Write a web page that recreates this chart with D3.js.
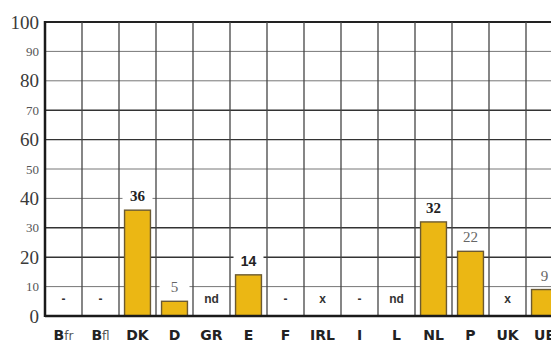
<!DOCTYPE html>
<html><head><meta charset="utf-8">
<script src="https://cdn.jsdelivr.net/npm/d3@7"></script>
<style>body{margin:0;background:#fff;overflow:hidden}</style>
</head><body>
<svg id="c" width="551" height="342"></svg>
<script>
const categories = ["Bfr","Bfl","DK","D","GR","E","F","IRL","I","L","NL","P","UK","UE"];
const values = [null,null,36,5,null,14,null,null,null,null,32,22,null,9];
const markers = ["-","-","","","nd","","-","x","-","nd","","","x",""];
const labelBold = [false,false,true,false,false,true,false,false,false,false,true,false,false,false];
const yTicks = [0,10,20,30,40,50,60,70,80,90,100];

const svg = d3.select("#c");
const x = d3.scaleBand().domain(categories).range([45, 563]).padding(0);
const y = d3.scaleLinear().domain([0,100]).range([316, 22]);

// horizontal gridlines
const strong = new Set([100,70,60,30,20]);
svg.append("g").selectAll("line").data(yTicks.filter(t=>t>0)).join("line")
  .attr("x1",45).attr("x2",563).attr("y1",d=>y(d)).attr("y2",d=>y(d))
  .attr("stroke",d=>d===100?"#222":(strong.has(d)?"#333":"#777"))
  .attr("stroke-width",d=>d===100?2.2:(strong.has(d)?1.4:1));

// vertical gridlines
svg.append("g").selectAll("line").data(categories.slice(1)).join("line")
  .attr("x1",d=>x(d)).attr("x2",d=>x(d)).attr("y1",y(100)).attr("y2",y(0))
  .attr("stroke","#444").attr("stroke-width",1.3);

// y tick labels
svg.append("g").selectAll("text").data(yTicks).join("text")
  .attr("x",39).attr("y",d=>y(d))
  .attr("text-anchor","end").attr("dominant-baseline","central")
  .attr("font-family","Liberation Serif, serif")
  .attr("font-size",d=>d%20===0?19:13)
  .attr("fill",d=>d%20===0?"#3a3a3a":"#555")
  .text(d=>d);

// bars
const bw = x.bandwidth()*0.7;
const data = categories.map((c,i)=>({c, v:values[i], m:markers[i], b:labelBold[i]}));
svg.append("g").selectAll("rect").data(data.filter(d=>d.v!==null)).join("rect")
  .attr("x",d=>x(d.c)+x.bandwidth()/2-bw/2).attr("width",bw)
  .attr("y",d=>y(d.v)).attr("height",d=>y(0)-y(d.v))
  .attr("fill","#ebb714").attr("stroke","#6b5a32").attr("stroke-width",1.4);

// value labels with white background
const vl = svg.append("g").selectAll("g").data(data.filter(d=>d.v!==null)).join("g")
  .attr("transform",d=>`translate(${x(d.c)+x.bandwidth()/2},${y(d.v)-14})`);
vl.append("rect").attr("x",-15).attr("y",-8).attr("width",30).attr("height",16).attr("fill","#fff");
vl.append("text").attr("text-anchor","middle").attr("dominant-baseline","central")
  .attr("font-family",d=>d.c==="E"?"Liberation Sans, sans-serif":"Liberation Serif, serif")
  .attr("font-weight",d=>d.b?"bold":"normal")
  .attr("font-size",d=>d.c==="E"?14:15)
  .attr("fill",d=>d.b?"#222":"#666")
  .text(d=>d.v);

// markers
svg.append("g").selectAll("text").data(data.filter(d=>d.m)).join("text")
  .attr("x",d=>x(d.c)+x.bandwidth()/2).attr("y",299)
  .attr("text-anchor","middle").attr("dominant-baseline","central")
  .attr("font-family","Liberation Sans, sans-serif").attr("font-weight","bold")
  .attr("font-size",12).attr("fill","#333")
  .text(d=>d.m);

// axes lines
svg.append("line").attr("x1",45).attr("x2",563).attr("y1",y(0)).attr("y2",y(0))
  .attr("stroke","#1a1a1a").attr("stroke-width",2.5);
svg.append("line").attr("x1",45).attr("x2",45).attr("y1",y(100)-1).attr("y2",y(0)+1)
  .attr("stroke","#1a1a1a").attr("stroke-width",2.5);

// category labels
const cl = svg.append("g").selectAll("text").data(categories).join("text")
  .attr("x",d=>x(d)+x.bandwidth()/2).attr("y",340)
  .attr("text-anchor","middle")
  .attr("font-family","DejaVu Sans, sans-serif")
  .attr("font-weight","bold").attr("font-size",14).attr("fill","#222");
cl.each(function(d){
  const t=d3.select(this);
  if(d.length===3 && d[0]==="B"){
    t.append("tspan").text(d[0]);
    t.append("tspan").attr("font-weight","normal").attr("font-size",12).attr("fill","#555").text(d.slice(1));
  } else t.text(d);
});
</script>
</body></html>
